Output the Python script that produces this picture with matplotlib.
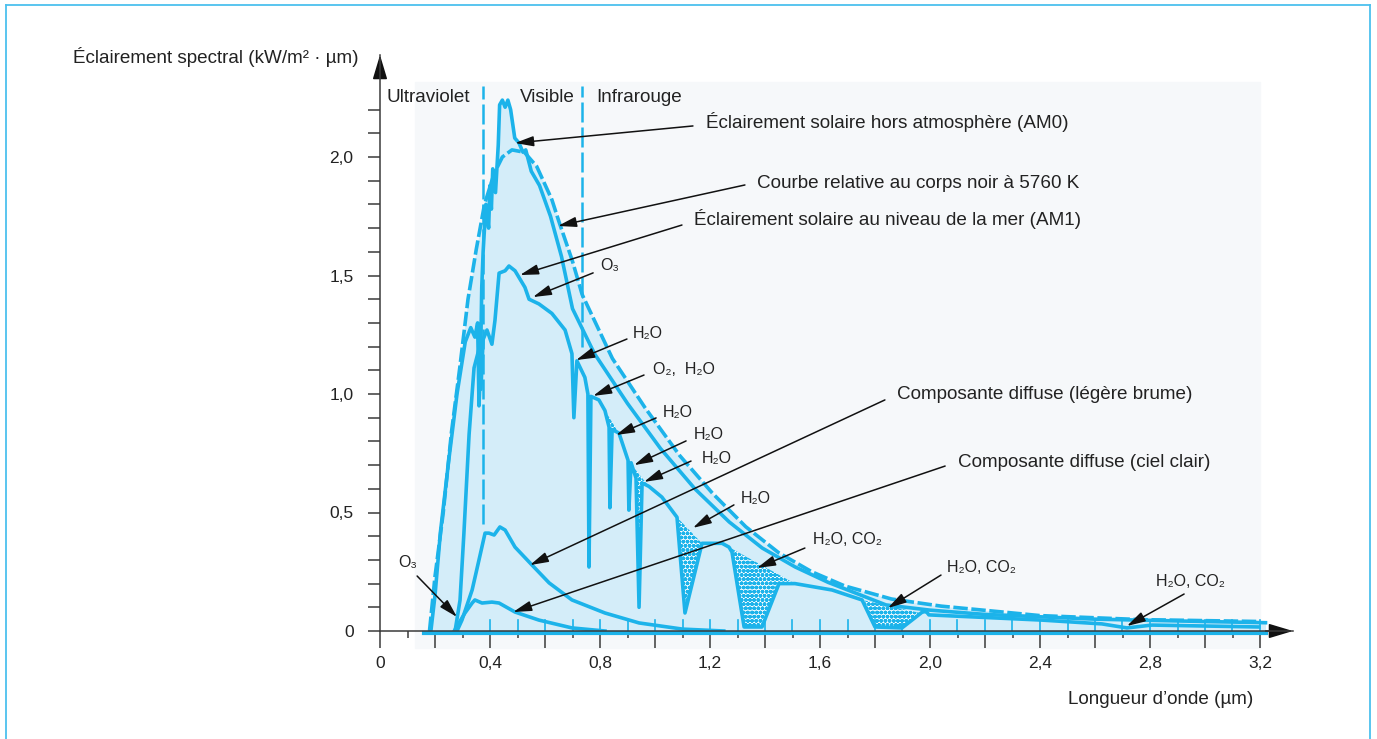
import matplotlib.pyplot as plt
import numpy as np
from matplotlib.patches import Rectangle
from matplotlib.lines import Line2D

plt.rcParams['font.family'] = ['Liberation Sans', 'DejaVu Sans']
plt.rcParams['hatch.linewidth'] = 1.4

cyan = '#1cb3ea'
light = '#d4edf9'
ink = '#222222'
big = 13.6

# solar spectral irradiance, kW/(m2.um) vs wavelength in um
bb_x = [0.18, 0.20, 0.23, 0.26, 0.29, 0.32, 0.35, 0.38, 0.415, 0.445, 0.48, 0.525, 0.57, 0.625, 0.65,
        0.70, 0.735, 0.845, 0.965, 1.09, 1.21, 1.33, 1.45, 1.57, 1.69, 1.86, 2.04, 2.40, 2.77, 3.20]
bb_y = [0.0, 0.23, 0.50, 0.84, 1.11, 1.40, 1.61, 1.80, 1.93, 2.00, 2.03, 2.02, 1.96, 1.82, 1.73,
        1.56, 1.42, 1.15, 0.94, 0.74, 0.58, 0.44, 0.33, 0.25, 0.19, 0.135, 0.105, 0.065, 0.048, 0.04]

am0_x = [0.185, 0.20, 0.22, 0.25, 0.28, 0.31, 0.33, 0.345, 0.355, 0.36, 0.365, 0.37, 0.375, 0.385, 0.395,
         0.40, 0.405, 0.41, 0.42, 0.43, 0.435, 0.445, 0.455, 0.465, 0.475, 0.49, 0.505, 0.52, 0.53, 0.55,
         0.58, 0.62, 0.66, 0.70, 0.78, 0.90, 1.02, 1.145, 1.27, 1.39, 1.51, 1.63, 1.84, 2.0, 2.2,
         2.6, 3.0, 3.22]
am0_y = [0.0, 0.15, 0.42, 0.72, 1.00, 1.22, 1.28, 1.24, 1.30, 0.95, 1.10, 1.45, 1.60, 1.80, 1.70,
         1.88, 1.78, 1.95, 1.85, 2.05, 2.22, 2.24, 2.21, 2.24, 2.20, 2.08, 2.06, 2.02, 2.03, 1.94,
         1.88, 1.75, 1.58, 1.36, 1.17, 0.96, 0.77, 0.60, 0.46, 0.35, 0.27, 0.205, 0.11, 0.088, 0.07,
         0.05, 0.04, 0.035]

am1_x = np.array([0.273, 0.291, 0.305, 0.324, 0.342, 0.36, 0.367, 0.375, 0.389, 0.407, 0.418, 0.433,
                  0.455, 0.469, 0.491, 0.527, 0.542, 0.578, 0.625, 0.673, 0.698, 0.705, 0.716, 0.745,
                  0.756, 0.76, 0.767, 0.796, 0.818, 0.833, 0.836, 0.844, 0.869, 0.902, 0.905, 0.913,
                  0.931, 0.942, 0.953, 0.978, 1.025, 1.08, 1.109, 1.171, 1.244, 1.269, 1.28, 1.324,
                  1.389, 1.451, 1.509, 1.644, 1.753, 1.80, 1.898, 1.982, 1.996, 2.407, 2.625, 2.716,
                  2.807, 3.196])
am1_y = np.array([0.0, 0.13, 0.41, 0.83, 1.11, 1.19, 1.02, 1.23, 1.27, 1.21, 1.31, 1.51,
                  1.52, 1.54, 1.52, 1.45, 1.40, 1.38, 1.34, 1.27, 1.17, 0.90, 1.14, 1.07,
                  1.00, 0.27, 0.99, 0.975, 0.93, 0.86, 0.52, 0.85, 0.835, 0.72, 0.51, 0.71,
                  0.645, 0.10, 0.625, 0.61, 0.565, 0.48, 0.076, 0.37, 0.37, 0.354, 0.333, 0.017,
                  0.017, 0.20, 0.20, 0.173, 0.131, 0.017, 0.013, 0.089, 0.068, 0.046, 0.03, 0.013,
                  0.025, 0.017])

haze_x = [0.28, 0.298, 0.335, 0.36, 0.382, 0.396, 0.415, 0.436, 0.455, 0.491, 0.553, 0.615, 0.698,
          0.818, 0.942, 1.10, 1.25]
haze_y = [0.0, 0.046, 0.173, 0.30, 0.413, 0.413, 0.405, 0.439, 0.426, 0.354, 0.278, 0.203, 0.131,
          0.076, 0.034, 0.008, 0.0]

clear_x = [0.27, 0.287, 0.309, 0.335, 0.345, 0.371, 0.407, 0.433, 0.491, 0.578, 0.698, 0.818]
clear_y = [0.0, 0.034, 0.076, 0.118, 0.131, 0.118, 0.122, 0.118, 0.08, 0.046, 0.013, 0.0]

# absorption bands drawn stippled (um ranges on the sea level curve)
bands = [(0.81, 0.87), (0.898, 0.98), (1.07, 1.18), (1.26, 1.52), (1.74, 2.0)]

x_ticks = [0.0, 0.2, 0.4, 0.6, 0.8, 1.0, 1.2, 1.4, 1.6, 1.8, 2.0, 2.2, 2.4, 2.6, 2.8, 3.0, 3.2]
x_labels = ['0', '', '0,4', '', '0,8', '', '1,2', '', '1,6', '', '2,0', '', '2,4', '', '2,8', '', '3,2']
y_ticks = [0.0, 0.1, 0.2, 0.3, 0.4, 0.5, 0.6, 0.7, 0.8, 0.9, 1.0, 1.1, 1.2, 1.3, 1.4, 1.5, 1.6,
           1.7, 1.8, 1.9, 2.0, 2.1, 2.2]
y_labels = ['0', '', '', '', '', '0,5', '', '', '', '', '1,0', '', '', '', '', '1,5', '', '', '', '',
            '2,0', '', '']

# (text, text x, text y, arrow tail, arrow tip, size)
notes = [
    ('Éclairement solaire hors atmosphère (AM0)', 1.185, 2.148, (1.138, 2.131), (0.491, 2.059), big),
    ('Courbe relative au corps noir à 5760 K', 1.371, 1.89, (1.327, 1.882), (0.647, 1.709), big),
    ('Éclairement solaire au niveau de la mer (AM1)', 1.142, 1.738, (1.098, 1.713), (0.509, 1.502), big),
    ('O₃', 0.80, 1.544, (0.775, 1.511), (0.556, 1.409), 11.5),
    ('H₂O', 0.92, 1.257, (0.898, 1.232), (0.713, 1.143), 11.5),
    ('O₂,  H₂O', 0.993, 1.105, (0.96, 1.08), (0.775, 0.992), 11.5),
    ('H₂O', 1.029, 0.92, (1.004, 0.899), (0.858, 0.827), 11.5),
    ('H₂O', 1.142, 0.831, (1.113, 0.802), (0.924, 0.70), 11.5),
    ('H₂O', 1.171, 0.726, (1.131, 0.717), (0.96, 0.629), 11.5),
    ('Composante diffuse (légère brume)', 1.88, 0.996, (1.836, 0.975), (0.545, 0.278), big),
    ('H₂O', 1.313, 0.557, (1.287, 0.532), (1.138, 0.435), 11.5),
    ('Composante diffuse (ciel clair)', 2.102, 0.709, (2.055, 0.696), (0.484, 0.08), big),
    ('H₂O, CO₂', 1.575, 0.384, (1.545, 0.35), (1.371, 0.266), 11.5),
    ('H₂O, CO₂', 2.062, 0.266, (2.04, 0.236), (1.847, 0.097), 11.5),
    ('H₂O, CO₂', 2.82, 0.21, (2.924, 0.156), (2.716, 0.021), 11.5),
    ('O₃', 0.065, 0.287, (0.135, 0.232), (0.28, 0.059), 11.5),
]

fig = plt.figure(figsize=(13.77, 7.39), dpi=100)

# paper tone behind the drawing and the thin page frame
fig.patches.append(Rectangle((415 / 1377, 1 - 648 / 739), 845 / 1377, 566 / 739,
                             transform=fig.transFigure, color='#f6f8fa', zorder=-5))
for xs, ys in [([6 / 1377, 6 / 1377], [0, 1 - 5 / 739]),
               ([1370 / 1377, 1370 / 1377], [0, 1 - 5 / 739]),
               ([6 / 1377, 1370 / 1377], [1 - 5 / 739, 1 - 5 / 739])]:
    fig.add_artist(Line2D(xs, ys, color='#4cc0ee', lw=1.3))

ax = fig.add_axes([380 / 1377, 1 - 631 / 739, 913 / 1377, 576 / 739])
ax.set_facecolor('none')
ax.set_xlim(0, 913 / 275)
ax.set_ylim(0, 576 / 237)

ax.fill_between(bb_x, bb_y, color=light, lw=0, zorder=1)
ax.fill_between(am0_x, am0_y, color=light, lw=0, zorder=1)
for lo, hi in bands:
    m = (am1_x >= lo) & (am1_x <= hi)
    ax.fill(am1_x[m], am1_y[m], facecolor='white', edgecolor=cyan, hatch='oooo', lw=0, zorder=2)

ax.plot(bb_x, bb_y, color=cyan, lw=2.6, ls=(0, (4, 1)), zorder=3)
ax.plot(am0_x, am0_y, color=cyan, lw=2.6, zorder=3)
ax.plot(am1_x, am1_y, color=cyan, lw=2.6, zorder=3)
ax.plot(haze_x, haze_y, color=cyan, lw=2.6, zorder=3)
ax.plot(clear_x, clear_y, color=cyan, lw=2.6, zorder=3)

# UV / visible / IR limits
ax.plot([0.375, 0.375], [0.45, 2.30], color=cyan, lw=1.8, ls=(0, (8, 2)), zorder=3)
ax.plot([0.735, 0.735], [1.2, 2.30], color=cyan, lw=1.8, ls=(0, (8, 2)), zorder=3)
ax.text(0.025, 2.253, 'Ultraviolet', fontsize=big, color=ink, va='center')
ax.text(0.51, 2.253, 'Visible', fontsize=big, color=ink, va='center')
ax.text(0.785, 2.253, 'Infrarouge', fontsize=big, color=ink, va='center')

# cyan baseline and inner ticks of the spectrum plate
ax.plot([0.16, 3.22], [-0.008, -0.008], color=cyan, lw=3, zorder=2, clip_on=False)
for t in np.arange(0.4, 3.25, 0.1):
    ax.plot([t, t], [0, 0.045], color=cyan, lw=1.2, zorder=2)

for text, tx, ty, tail, tip, size in notes:
    ax.annotate('', xy=tip, xytext=tail,
                arrowprops=dict(arrowstyle='-|>,head_length=0.8,head_width=0.22', color='#111111',
                                lw=1.1, mutation_scale=14, shrinkA=0, shrinkB=0), zorder=5)
    ax.text(tx, ty, text, fontsize=size, color=ink, va='center', ha='left', zorder=5)

# axes with arrow heads
for side in ['top', 'right']:
    ax.spines[side].set_visible(False)
for side in ['left', 'bottom']:
    ax.spines[side].set_color('#3a3a3a')
    ax.spines[side].set_linewidth(1.1)
    ax.spines[side].set_zorder(4)
ax.annotate('', xy=(1, 0), xytext=(0.97, 0), xycoords='axes fraction',
            arrowprops=dict(arrowstyle='-|>,head_length=1.5,head_width=0.45', color='#111111',
                            lw=1.1, mutation_scale=10, shrinkA=0, shrinkB=0))
ax.annotate('', xy=(0, 1), xytext=(0, 0.96), xycoords='axes fraction',
            arrowprops=dict(arrowstyle='-|>,head_length=1.5,head_width=0.45', color='#111111',
                            lw=1.1, mutation_scale=10, shrinkA=0, shrinkB=0))

ax.set_xticks(x_ticks, x_labels)
ax.set_xticks(np.arange(0.1, 3.25, 0.2), minor=True)
ax.set_yticks(y_ticks, y_labels)
ax.tick_params(axis='x', which='major', length=12, width=1.1, color='#3a3a3a', pad=6,
               labelsize=12.5, labelcolor=ink)
ax.tick_params(axis='x', which='minor', length=5, width=1.1, color='#3a3a3a')
ax.tick_params(axis='y', length=9, width=1.1, color='#3a3a3a', pad=10, labelsize=12.5,
               labelcolor=ink)

fig.text(73 / 1377, 1 - 57 / 739, 'Éclairement spectral (kW/m² · µm)',
         fontsize=big, color=ink, va='center', ha='left')
fig.text(1253 / 1377, 1 - 700 / 739, 'Longueur d’onde (µm)', fontsize=big, color=ink,
         va='center', ha='right')

fig.savefig('out.png', dpi=100)
